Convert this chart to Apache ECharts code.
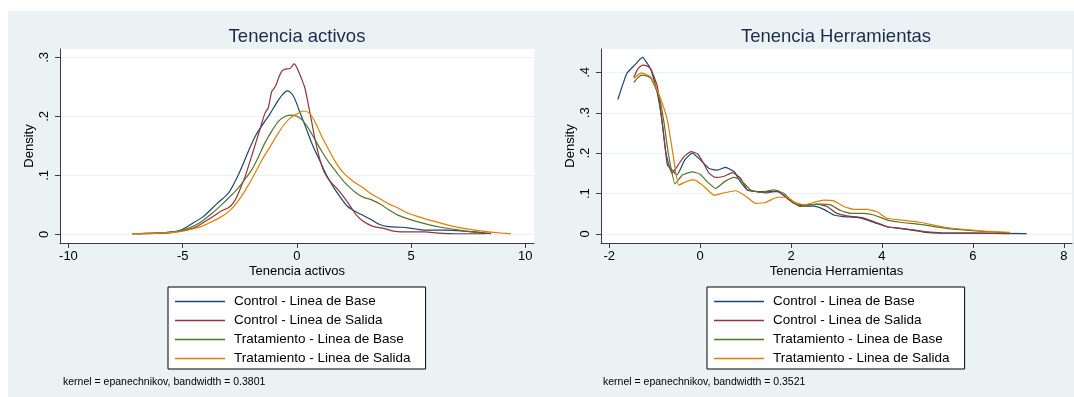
<!DOCTYPE html>
<html>
<head>
<meta charset="utf-8">
<script src="https://cdn.jsdelivr.net/npm/echarts@6/dist/echarts.min.js"></script>
<style>
  html, body { margin: 0; padding: 0; background: #ffffff; }
  #chart { width: 1074px; height: 397px; }
</style>
</head>
<body>
<div id="chart"></div>
<script>
// ---- Data ---------------------------------------------------------------
const seriesNames = [
  'Control - Linea de Base',
  'Control - Linea de Salida',
  'Tratamiento - Linea de Base',
  'Tratamiento - Linea de Salida'
];

// Kernel density estimates, [x, density] pairs
const activosControlBase = [[-7.2,0.001],[-6,0.002],[-5.5,0.004],[-5.1,0.007],[-4.6,0.018],[-4.1,0.03],[-3.5,0.052],[-3.0,0.07],[-2.7,0.09],[-2.4,0.115],[-2.1,0.143],[-1.8,0.168],[-1.5,0.186],[-1.2,0.203],[-0.9,0.222],[-0.65,0.236],[-0.42,0.243],[-0.15,0.234],[0.1,0.21],[0.4,0.18],[0.7,0.15],[1.0,0.125],[1.3,0.1],[1.6,0.08],[1.9,0.063],[2.2,0.048],[2.5,0.04],[2.8,0.034],[3.2,0.026],[3.6,0.017],[4.0,0.013],[4.6,0.012],[5.2,0.009],[5.8,0.007],[6.5,0.007],[7.2,0.006],[7.8,0.004],[8.5,0.001]];
const activosControlSalida = [[-7.2,0.001],[-6.2,0.002],[-5.5,0.003],[-5.0,0.006],[-4.5,0.011],[-4.0,0.022],[-3.6,0.032],[-3.3,0.04],[-3.0,0.045],[-2.75,0.055],[-2.5,0.075],[-2.25,0.1],[-2.0,0.13],[-1.8,0.155],[-1.6,0.18],[-1.4,0.205],[-1.25,0.215],[-1.1,0.242],[-0.95,0.25],[-0.8,0.265],[-0.65,0.277],[-0.5,0.28],[-0.3,0.281],[-0.12,0.289],[0.05,0.278],[0.2,0.264],[0.35,0.248],[0.5,0.22],[0.65,0.19],[0.8,0.16],[1.0,0.128],[1.2,0.105],[1.45,0.09],[1.7,0.08],[2.0,0.066],[2.3,0.05],[2.6,0.033],[2.9,0.022],[3.3,0.014],[3.8,0.01],[4.3,0.005],[5.0,0.004],[5.6,0.004],[6.2,0.002],[7.0,0.001],[8.0,0.001],[8.5,0.002]];
const activosTratBase = [[-7.2,0.001],[-6,0.002],[-5.2,0.005],[-4.7,0.011],[-4.2,0.021],[-3.7,0.036],[-3.3,0.05],[-2.9,0.065],[-2.6,0.077],[-2.3,0.092],[-2.0,0.108],[-1.7,0.13],[-1.4,0.155],[-1.1,0.175],[-0.8,0.192],[-0.5,0.2],[-0.25,0.202],[0,0.2],[0.25,0.193],[0.5,0.18],[0.8,0.16],[1.1,0.14],[1.4,0.122],[1.7,0.107],[2.0,0.092],[2.3,0.08],[2.6,0.07],[2.9,0.063],[3.3,0.058],[3.7,0.05],[4.0,0.042],[4.4,0.033],[4.8,0.027],[5.3,0.021],[5.8,0.016],[6.3,0.012],[6.8,0.009],[7.3,0.006],[8.1,0.002]];
const activosTratSalida = [[-7.2,0.001],[-6,0.002],[-5.2,0.004],[-4.7,0.008],[-4.2,0.013],[-3.7,0.022],[-3.3,0.03],[-3.0,0.038],[-2.7,0.05],[-2.4,0.066],[-2.1,0.085],[-1.8,0.106],[-1.5,0.128],[-1.2,0.147],[-0.9,0.166],[-0.6,0.184],[-0.3,0.197],[0,0.204],[0.3,0.209],[0.55,0.205],[0.8,0.19],[1.1,0.165],[1.4,0.143],[1.7,0.122],[2.0,0.106],[2.3,0.095],[2.6,0.086],[2.9,0.079],[3.2,0.07],[3.6,0.061],[4.0,0.052],[4.4,0.045],[4.8,0.037],[5.3,0.03],[5.8,0.024],[6.3,0.019],[6.8,0.014],[7.3,0.01],[7.8,0.007],[8.4,0.004],[9.0,0.002],[9.37,0.001]];

const herrControlBase = [[-1.81,0.333],[-1.61,0.398],[-1.44,0.418],[-1.27,0.437],[-1.08,0.406],[-0.94,0.348],[-0.83,0.274],[-0.72,0.171],[-0.61,0.158],[-0.51,0.146],[-0.34,0.183],[-0.17,0.2],[0.01,0.183],[0.2,0.162],[0.38,0.158],[0.56,0.165],[0.75,0.154],[0.89,0.129],[1.04,0.109],[1.26,0.105],[1.48,0.105],[1.7,0.105],[1.88,0.092],[2.06,0.076],[2.28,0.069],[2.5,0.069],[2.72,0.061],[2.94,0.047],[3.16,0.043],[3.45,0.041],[3.67,0.035],[3.89,0.026],[4.11,0.018],[4.4,0.014],[4.7,0.009],[4.95,0.004],[5.3,0.002],[6.0,0.002],[7.18,0.001]];
const herrControlSalida = [[-1.46,0.388],[-1.36,0.41],[-1.27,0.418],[-1.15,0.415],[-1.08,0.408],[-0.94,0.365],[-0.85,0.29],[-0.75,0.2],[-0.62,0.15],[-0.5,0.168],[-0.35,0.192],[-0.2,0.204],[-0.05,0.198],[0.1,0.17],[0.2,0.15],[0.34,0.14],[0.53,0.143],[0.71,0.152],[0.89,0.138],[1.04,0.109],[1.26,0.105],[1.48,0.102],[1.7,0.107],[1.92,0.088],[2.14,0.073],[2.36,0.072],[2.58,0.074],[2.79,0.068],[3.01,0.051],[3.23,0.045],[3.53,0.041],[3.82,0.031],[4.11,0.018],[4.4,0.014],[4.69,0.01],[5.0,0.005],[5.3,0.003],[6.0,0.002],[6.81,0.001]];
const herrTratBase = [[-1.46,0.375],[-1.36,0.388],[-1.27,0.393],[-1.15,0.39],[-1.08,0.385],[-0.9,0.34],[-0.8,0.28],[-0.7,0.2],[-0.55,0.124],[-0.39,0.146],[-0.17,0.154],[0.0,0.148],[0.16,0.129],[0.34,0.113],[0.53,0.129],[0.75,0.14],[0.89,0.134],[1.11,0.109],[1.33,0.103],[1.62,0.109],[1.84,0.101],[2.03,0.08],[2.21,0.068],[2.43,0.072],[2.65,0.074],[2.87,0.072],[3.09,0.058],[3.31,0.051],[3.6,0.051],[3.82,0.047],[4.11,0.035],[4.4,0.029],[4.84,0.024],[5.42,0.014],[6.15,0.007],[6.81,0.003]];
const herrTratSalida = [[-1.46,0.385],[-1.36,0.395],[-1.27,0.398],[-1.15,0.393],[-1.08,0.388],[-0.9,0.344],[-0.72,0.282],[-0.6,0.2],[-0.47,0.121],[-0.28,0.131],[-0.13,0.134],[0.05,0.121],[0.31,0.096],[0.53,0.102],[0.78,0.107],[1.0,0.094],[1.22,0.076],[1.44,0.078],[1.7,0.091],[1.92,0.091],[2.06,0.08],[2.28,0.072],[2.5,0.078],[2.72,0.084],[2.94,0.082],[3.16,0.068],[3.38,0.061],[3.67,0.061],[3.89,0.055],[4.11,0.039],[4.4,0.035],[4.84,0.029],[5.42,0.016],[6.15,0.008],[6.81,0.004]];

// Tick positions
const activosXTicks = [-10, -5, 0, 5, 10];
const activosYTicks = [0, 0.1, 0.2, 0.3];
const herrXTicks = [-2, 0, 2, 4, 6, 8];
const herrYTicks = [0, 0.1, 0.2, 0.3, 0.4];

// ---- Styling / layout -----------------------------------------------------
const FONT = '"Liberation Sans", Arial, Helvetica, sans-serif';
const lineColors = ['#1A476F', '#90353B', '#55752F', '#E37E00'];
const panelBg = '#EAF2F3';
const axisColor = '#3c3c3c';

const panels = [
  {
    title: 'Tenencia activos',
    note: 'kernel = epanechnikov, bandwidth = 0.3801',
    grid: { left: 60, right: 540, top: 49, bottom: 154 },
    center: 297,
    xRange: [-10.37, 10.38], yRange: [-0.0147, 0.3141],
    xTicks: activosXTicks, yTicks: activosYTicks,
    curves: [activosControlBase, activosControlSalida, activosTratBase, activosTratSalida],
    smooth: 0.3
  },
  {
    title: 'Tenencia Herramientas',
    note: 'kernel = epanechnikov, bandwidth = 0.3521',
    grid: { left: 601, right: 2, top: 49, bottom: 154 },
    center: 836,
    xRange: [-2.18, 8.18], yRange: [-0.0223, 0.4579],
    xTicks: herrXTicks, yTicks: herrYTicks,
    curves: [herrControlBase, herrControlSalida, herrTratBase, herrTratSalida],
    smooth: 0.15
  }
];

const densityLabel = v => (v === 0 ? '0' : String(v).replace(/^0\./, '.'));

const option = {
  backgroundColor: '#ffffff',
  animation: false,
  textStyle: { fontFamily: FONT },
  graphic: [{
    type: 'rect', z: -100, silent: true,
    shape: { x: 8, y: 11, width: 1066, height: 386 },
    style: { fill: panelBg }
  }],
  title: [],
  legend: [],
  grid: [],
  xAxis: [],
  yAxis: [],
  series: []
};

panels.forEach((p, i) => {
  option.title.push({
    text: p.title, left: p.center, top: 27, textAlign: 'center', padding: 0,
    textStyle: { fontFamily: FONT, fontSize: 18.5, fontWeight: 'normal', color: '#1e2b4d' }
  });
  option.title.push({
    text: p.note, left: p.grid.left + 3 - (i === 0 ? 0 : 1), top: 377, padding: 0,
    textStyle: { fontFamily: FONT, fontSize: 10.5, fontWeight: 'normal', color: '#000' }
  });
  option.legend.push({
    data: seriesNames,
    orient: 'vertical',
    left: p.center - 129, top: 287,
    backgroundColor: '#ffffff', borderColor: '#000000', borderWidth: 1, borderRadius: 0,
    padding: [7, 15, 3, 7],
    icon: 'rect',
    itemWidth: 50, itemHeight: 1.3, itemGap: 4,
    selectedMode: false,
    textStyle: { fontFamily: FONT, fontSize: 13.5, color: '#000', lineHeight: 15, padding: [0, 0, 0, 4] }
  });
  option.grid.push(Object.assign({ show: true, backgroundColor: '#ffffff', borderWidth: 0 }, p.grid));
  option.xAxis.push({
    type: 'value', gridIndex: i, min: p.xRange[0], max: p.xRange[1],
    name: p.title, nameLocation: 'middle', nameGap: 22,
    nameTextStyle: { fontFamily: FONT, fontSize: 13, color: '#000' },
    axisLine: { show: true, onZero: false, lineStyle: { color: axisColor, width: 1 } },
    axisTick: { show: true, length: 5, customValues: p.xTicks, lineStyle: { color: axisColor } },
    axisLabel: { customValues: p.xTicks, fontFamily: FONT, fontSize: 13, color: '#000', margin: 7 },
    splitLine: { show: false }
  });
  option.yAxis.push({
    type: 'value', gridIndex: i, min: p.yRange[0], max: p.yRange[1],
    name: 'Density', nameLocation: 'middle', nameGap: 24,
    nameTextStyle: { fontFamily: FONT, fontSize: 13, color: '#000' },
    axisLine: { show: true, onZero: false, lineStyle: { color: axisColor, width: 1 } },
    axisTick: { show: true, length: 5, customValues: p.yTicks, lineStyle: { color: axisColor } },
    axisLabel: { customValues: p.yTicks, rotate: 90, fontFamily: FONT, fontSize: 13, color: '#000', margin: 9, formatter: densityLabel },
    splitLine: { show: true, lineStyle: { color: panelBg, width: 1 } }
  });
  p.curves.forEach((data, k) => {
    option.series.push({
      name: seriesNames[k], type: 'line', xAxisIndex: i, yAxisIndex: i,
      data: data, symbol: 'none', showSymbol: false, smooth: p.smooth,
      color: lineColors[k],
      itemStyle: { color: lineColors[k] },
      lineStyle: { color: lineColors[k], width: 1.2 }
    });
  });
});

const chart = echarts.init(document.getElementById('chart'), null, { renderer: 'canvas' });
chart.setOption(option);
</script>
</body>
</html>
